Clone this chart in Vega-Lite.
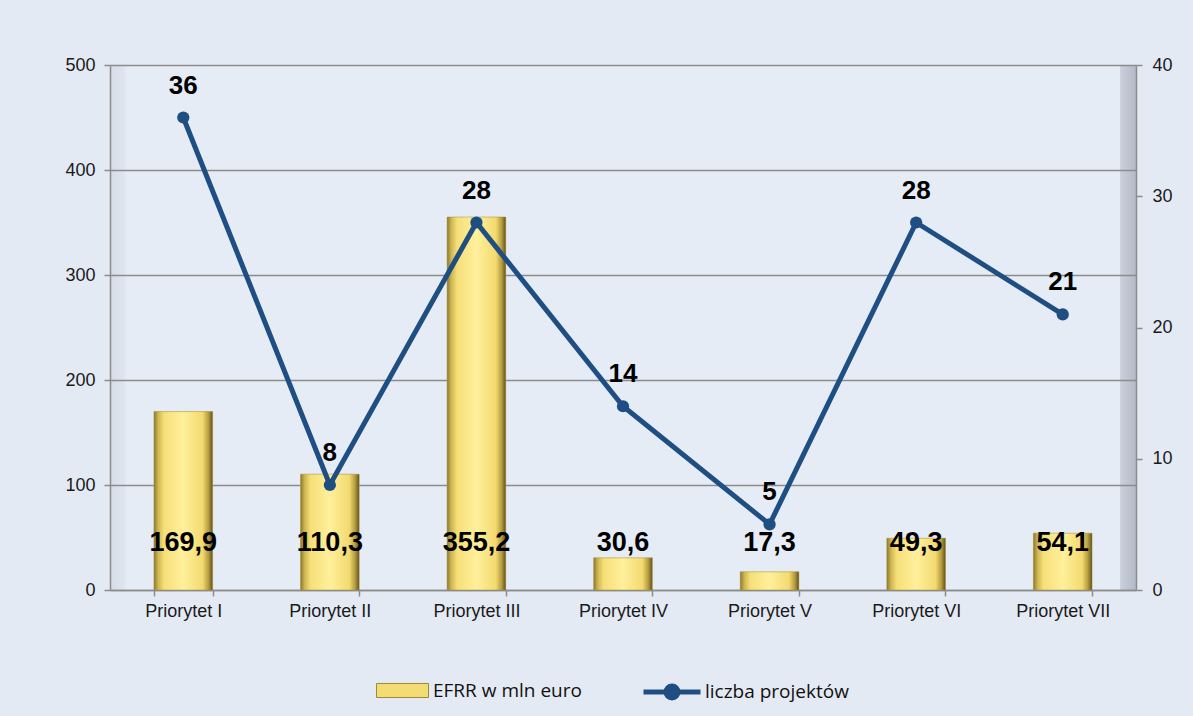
{
  "$schema": "https://vega.github.io/schema/vega-lite/v6.json",
  "autosize": "none",
  "width": 1026,
  "height": 525,
  "padding": {"left": 110, "top": 65, "right": 57, "bottom": 126},
  "background": "#E4EAF4",
  "config": {
    "view": {
      "stroke": null,
      "fill": {
        "gradient": "linear",
        "x1": 0, "y1": 0, "x2": 1, "y2": 0,
        "stops": [
          {"offset": 0, "color": "#d6dde8"},
          {"offset": 0.014, "color": "#dfe5ef"},
          {"offset": 0.016, "color": "#e6ecf5"},
          {"offset": 0.984, "color": "#e6ecf5"},
          {"offset": 0.985, "color": "#c9d0db"},
          {"offset": 1, "color": "#b3bac6"}
        ]
      }
    },
    "axis": {
      "labelFont": "Liberation Sans",
      "labelFontSize": 18,
      "labelColor": "#1a1a1a",
      "domainColor": "#8c8c8c",
      "domainWidth": 1.5,
      "tickColor": "#8c8c8c",
      "tickWidth": 1.5,
      "gridColor": "#8c8c8c",
      "gridWidth": 1.3,
      "title": null
    },
    "legend": {
      "labelFont": "Open Sans",
      "labelFontSize": 19,
      "labelColor": "#111111",
      "title": null
    }
  },
  "data": {
    "values": [
      {"priorytet": "Priorytet I", "efrr": 169.9, "efrr_label": "169,9", "projekty": 36},
      {"priorytet": "Priorytet II", "efrr": 110.3, "efrr_label": "110,3", "projekty": 8},
      {"priorytet": "Priorytet III", "efrr": 355.2, "efrr_label": "355,2", "projekty": 28},
      {"priorytet": "Priorytet IV", "efrr": 30.6, "efrr_label": "30,6", "projekty": 14},
      {"priorytet": "Priorytet V", "efrr": 17.3, "efrr_label": "17,3", "projekty": 5},
      {"priorytet": "Priorytet VI", "efrr": 49.3, "efrr_label": "49,3", "projekty": 28},
      {"priorytet": "Priorytet VII", "efrr": 54.1, "efrr_label": "54,1", "projekty": 21}
    ]
  },
  "encoding": {
    "x": {
      "field": "priorytet",
      "type": "nominal",
      "sort": null,
      "scale": {"paddingInner": 0.6, "paddingOuter": 0.3},
      "axis": {"labelAngle": 0, "ticks": true, "tickBand": "extent", "tickSize": 6, "labelPadding": 6, "grid": false}
    }
  },
  "layer": [
    {
      "layer": [
        {
          "mark": {"type": "bar"},
          "encoding": {
            "y": {
              "field": "efrr",
              "type": "quantitative",
              "scale": {"domain": [0, 500]},
              "axis": {"values": [0, 100, 200, 300, 400, 500], "tickSize": 6, "labelPadding": 9, "grid": true}
            },
            "fill": {
              "datum": "EFRR w mln euro",
              "scale": {"range": ["#F3DC72"]},
              "legend": {
                "orient": "none",
                "legendX": 266,
                "legendY": 599,
                "symbolType": "M-1,-0.27L1,-0.27L1,0.27L-1,0.27Z",
                "symbolSize": 2704,
                "symbolStrokeColor": "#9c8a3a",
                "symbolStrokeWidth": 1,
                "labelOffset": 4
              }
            }
          }
        },
        {
          "mark": {
            "type": "bar",
            "fill": {
              "gradient": "linear",
              "x1": 0, "y1": 0, "x2": 1, "y2": 0,
              "stops": [
                {"offset": 0, "color": "#8a7830"},
                {"offset": 0.07, "color": "#cdb550"},
                {"offset": 0.17, "color": "#f6df78"},
                {"offset": 0.5, "color": "#fff09c"},
                {"offset": 0.83, "color": "#f3da70"},
                {"offset": 0.93, "color": "#b59c3e"},
                {"offset": 1, "color": "#5e5020"}
              ]
            },
            "stroke": "#a08c3c",
            "strokeWidth": 0.5
          },
          "encoding": {
            "y": {"field": "efrr", "type": "quantitative"}
          }
        },
        {
          "mark": {
            "type": "text",
            "font": "Liberation Sans",
            "fontSize": 27,
            "fontWeight": "bold",
            "color": "#000000",
            "baseline": "middle"
          },
          "encoding": {
            "y": {"datum": 45, "type": "quantitative"},
            "text": {"field": "efrr_label"}
          }
        }
      ]
    },
    {
      "layer": [
        {
          "mark": {
            "type": "line",
            "strokeWidth": 5,
            "point": {"filled": true, "size": 150}
          },
          "encoding": {
            "y": {
              "field": "projekty",
              "type": "quantitative",
              "scale": {"domain": [0, 40]},
              "axis": {"orient": "right", "values": [0, 10, 20, 30, 40], "tickSize": 6, "labelPadding": 10, "grid": false}
            },
            "color": {
              "datum": "liczba projektów",
              "scale": {"range": ["#1F4E83"]},
              "legend": {
                "orient": "none",
                "legendX": 531,
                "legendY": 596,
                "symbolType": "M-1,0L1,0M0.21,0A0.21,0.21 0 1,1 -0.21,0A0.21,0.21 0 1,1 0.21,0Z",
                "symbolSize": 3249,
                "symbolStrokeWidth": 5,
                "symbolFillColor": "#1F4E83",
                "labelOffset": 2
              }
            }
          }
        },
        {
          "mark": {
            "type": "text",
            "font": "Liberation Sans",
            "fontSize": 26,
            "fontWeight": "bold",
            "color": "#000000",
            "baseline": "middle",
            "dy": -32
          },
          "encoding": {
            "y": {"field": "projekty", "type": "quantitative"},
            "text": {"field": "projekty"}
          }
        }
      ]
    }
  ],
  "resolve": {"scale": {"y": "independent"}}
}
